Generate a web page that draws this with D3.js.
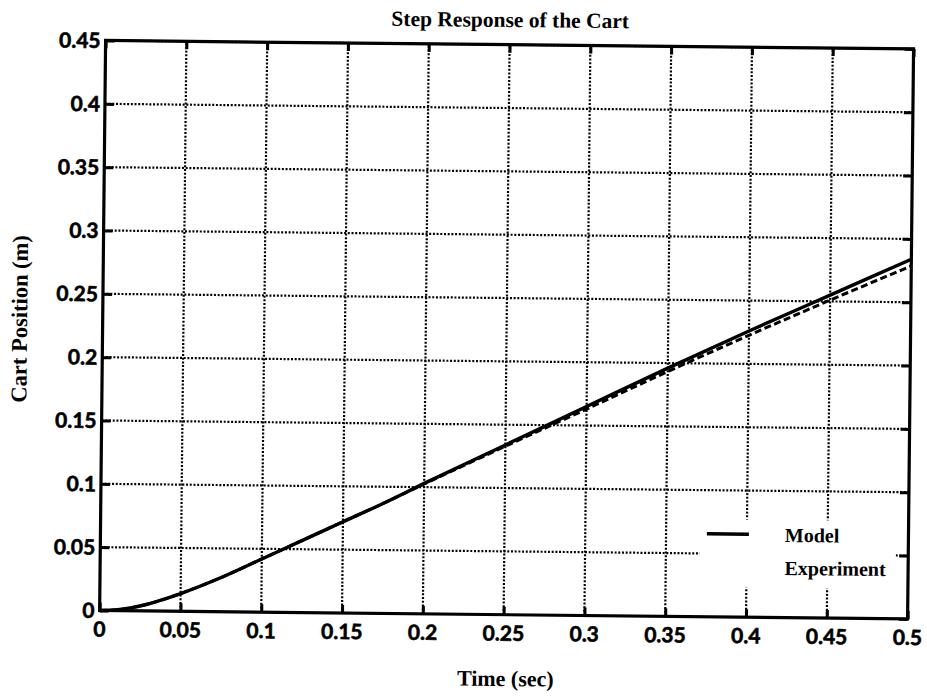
<!DOCTYPE html>
<html>
<head>
<meta charset="utf-8">
<script src="https://cdn.jsdelivr.net/npm/d3@7"></script>
<style>
  html, body { margin: 0; padding: 0; background: #fff; }
  svg { display: block; }
</style>
</head>
<body>
<svg id="chart" width="927" height="699"></svg>
<script>
// Time samples (s)
const time = [0, 0.01, 0.02, 0.03, 0.04, 0.05, 0.075, 0.1, 0.125, 0.15, 0.175, 0.2, 0.25, 0.3, 0.35, 0.4, 0.45, 0.5];
// Simulated cart position (m)
const model = [0, 0.0006, 0.0025, 0.0055, 0.0095, 0.014, 0.027, 0.042, 0.057, 0.072, 0.087, 0.103, 0.134, 0.165, 0.196, 0.226, 0.255, 0.284];
// Measured cart position (m)
const experiment = [0, 0.0006, 0.0025, 0.0055, 0.0095, 0.014, 0.027, 0.042, 0.057, 0.072, 0.087, 0.1025, 0.133, 0.163, 0.1933, 0.2226, 0.251, 0.2787];

const xTicks = [0, 0.05, 0.1, 0.15, 0.2, 0.25, 0.3, 0.35, 0.4, 0.45, 0.5];
const yTicks = [0, 0.05, 0.1, 0.15, 0.2, 0.25, 0.3, 0.35, 0.4, 0.45];
const xTickLabels = ["0", "0.05", "0.1", "0.15", "0.2", "0.25", "0.3", "0.35", "0.4", "0.45", "0.5"];
const yTickLabels = ["0", "0.05", "0.1", "0.15", "0.2", "0.25", "0.3", "0.35", "0.4", "0.45"];

const titleText = "Step Response of the Cart";
const xLabel = "Time (sec)";
const yLabel = "Cart Position (m)";
const legendNames = ["Model", "Experiment"];

const svg = d3.select("#chart");
const L = 102.6, R = 910.6, T = 44.7, B = 614.7;

// whole figure sits a little askew on the page
const g = svg.append("g").attr("transform", "rotate(0.6, 506.6, 329.7)");

const x = d3.scaleLinear().domain([0, 0.5]).range([L, R]);
const y = d3.scaleLinear().domain([0, 0.45]).range([B, T]);

const tickFont = "Lato, 'Liberation Sans', sans-serif";
const serif = "'Liberation Serif', 'Times New Roman', serif";

// dotted grid
const grid = g.append("g").attr("stroke", "#000").attr("stroke-width", 2.2)
  .attr("stroke-dasharray", "2,1.7").attr("fill", "none");
grid.selectAll("line.v").data(xTicks.slice(1, -1)).join("line")
  .attr("x1", d => x(d)).attr("x2", d => x(d)).attr("y1", B).attr("y2", T);
grid.selectAll("line.h").data(yTicks.slice(1)).join("line")
  .attr("x1", L).attr("x2", R).attr("y1", d => y(d)).attr("y2", d => y(d));

// legend panel hides the grid behind it
g.append("rect").attr("x", 702).attr("y", 517).attr("width", 196).attr("height", 68).attr("fill", "#fff");

// curves
const line = (vals) => d3.line().x((d, i) => x(time[i])).y(d => y(d)).curve(d3.curveMonotoneX)(vals);
g.append("path").attr("d", line(experiment)).attr("fill", "none").attr("stroke", "#000")
  .attr("stroke-width", 3).attr("stroke-dasharray", "7,3.5");
g.append("path").attr("d", line(model)).attr("fill", "none").attr("stroke", "#000")
  .attr("stroke-width", 3.4);

// axes: inward ticks on all four sides
const axB = d3.axisBottom(x).tickValues(xTicks).tickSize(-8).tickFormat("");
const axT = d3.axisTop(x).tickValues(xTicks).tickSize(-8).tickFormat("");
const axL = d3.axisLeft(y).tickValues(yTicks).tickSize(-9).tickFormat("");
const axR = d3.axisRight(y).tickValues(yTicks).tickSize(-9).tickFormat("");
[[axB, `translate(0,${B})`], [axT, `translate(0,${T})`], [axL, `translate(${L},0)`], [axR, `translate(${R},0)`]]
  .forEach(([ax, tr]) => {
    const a = g.append("g").attr("transform", tr).call(ax);
    a.select(".domain").remove();
    a.selectAll(".tick line").attr("stroke", "#000").attr("stroke-width", 3);
  });

// frame
g.append("rect").attr("x", L).attr("y", T).attr("width", R - L).attr("height", B - T)
  .attr("fill", "none").attr("stroke", "#000").attr("stroke-width", 3.2);

// tick labels
const tickText = (sel) => sel.attr("font-family", tickFont).attr("font-weight", 700).attr("font-size", 21)
  .attr("stroke", "#000").attr("stroke-width", 0.6).attr("fill", "#000");
g.selectAll("text.xt").data(xTicks).join("text")
  .attr("x", d => x(d)).attr("y", B + 26).attr("text-anchor", "middle")
  .call(tickText).text((d, i) => xTickLabels[i]);
g.selectAll("text.yt").data(yTicks).join("text")
  .attr("x", L - 5).attr("y", d => y(d)).attr("dy", "0.36em").attr("text-anchor", "end")
  .call(tickText).text((d, i) => yTickLabels[i]);

// titles
g.append("text").attr("x", 507).attr("y", 27).attr("text-anchor", "middle")
  .attr("font-family", serif).attr("font-weight", 700).attr("font-size", 21.5).text(titleText);
g.append("text").attr("x", 509).attr("y", 686).attr("text-anchor", "middle")
  .attr("font-family", serif).attr("font-weight", 700).attr("font-size", 22).text(xLabel);
g.append("text").attr("transform", "translate(27,324) rotate(-90)").attr("text-anchor", "middle")
  .attr("font-family", serif).attr("font-weight", 700).attr("font-size", 22.5).text(yLabel);

// legend
g.append("line").attr("x1", 709).attr("x2", 751).attr("y1", 531.7).attr("y2", 531.7)
  .attr("stroke", "#000").attr("stroke-width", 3.4);
g.selectAll("text.lg").data(legendNames).join("text")
  .attr("x", 787).attr("y", (d, i) => 532 + i * 33).attr("dy", "0.35em")
  .attr("font-family", serif).attr("font-weight", 700).attr("font-size", 20)
  .text(d => d);
</script>
</body>
</html>
